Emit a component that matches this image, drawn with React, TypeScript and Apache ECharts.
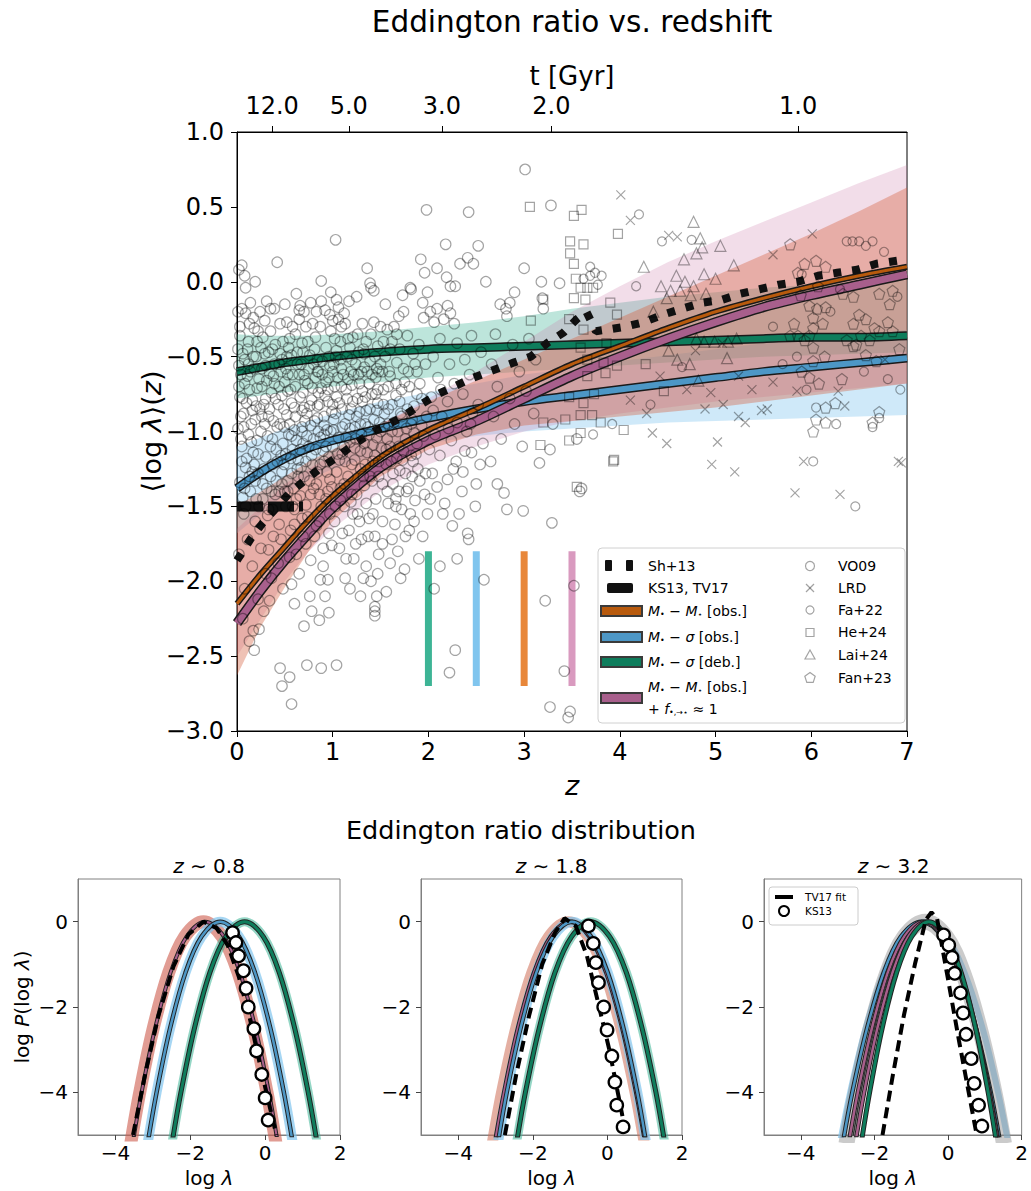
import React, { useEffect, useRef } from "react";
import * as echarts from "echarts";

// ---------------- main panel data ----------------
const Z_LINE = [0, 0.25, 0.5, 0.75, 1, 1.5, 2, 2.5, 3, 3.5, 4, 4.5, 5, 5.5, 6, 6.5, 7];
const ORANGE_LINE = [-2.15, -1.95, -1.77, -1.59, -1.43, -1.17, -0.99, -0.85, -0.7, -0.55, -0.43, -0.31, -0.2, -0.11, -0.03, 0.04, 0.1];
const PURPLE_LINE = [-2.28, -2.06, -1.86, -1.68, -1.51, -1.24, -1.06, -0.93, -0.78, -0.63, -0.5, -0.38, -0.27, -0.17, -0.09, -0.02, 0.05];
const BLUE_LINE = [-1.38, -1.27, -1.18, -1.11, -1.06, -0.98, -0.91, -0.85, -0.8, -0.76, -0.72, -0.68, -0.64, -0.6, -0.57, -0.54, -0.51];
const GREEN_LINE = [-0.6, -0.57, -0.54, -0.52, -0.5, -0.47, -0.45, -0.44, -0.43, -0.42, -0.41, -0.4, -0.39, -0.38, -0.37, -0.37, -0.36];

const RED_LO = [-2.63, -2.3, -2.04, -1.8, -1.6, -1.3, -1.12, -1.02, -0.96, -0.93, -0.9, -0.87, -0.84, -0.8, -0.76, -0.72, -0.68];
const RED_HI = [-1.5, -1.4, -1.3, -1.2, -1.12, -0.95, -0.8, -0.66, -0.52, -0.38, -0.24, -0.1, 0.04, 0.18, 0.32, 0.47, 0.63];
const PINK_LO = [-2.5, -2.25, -2.0, -1.8, -1.65, -1.4, -1.22, -1.1, -1.0, -0.93, -0.88, -0.84, -0.8, -0.77, -0.74, -0.71, -0.68];
const PINK_HI = [-1.65, -1.5, -1.35, -1.25, -1.15, -0.95, -0.78, -0.6, -0.4, -0.2, -0.03, 0.13, 0.27, 0.4, 0.53, 0.66, 0.78];
const GREEN_LO = [-0.78, -0.76, -0.74, -0.72, -0.7, -0.67, -0.64, -0.62, -0.6, -0.58, -0.56, -0.54, -0.52, -0.5, -0.49, -0.48, -0.47];
const GREEN_HI = [-0.35, -0.36, -0.36, -0.36, -0.35, -0.33, -0.3, -0.27, -0.23, -0.18, -0.14, -0.1, -0.07, -0.04, -0.02, 0.0, 0.01];
const BLUE_LO = [-1.68, -1.55, -1.42, -1.32, -1.25, -1.15, -1.08, -1.03, -1.0, -0.98, -0.96, -0.94, -0.93, -0.92, -0.91, -0.9, -0.89];
const BLUE_HI = [-1.1, -1.04, -0.98, -0.93, -0.88, -0.8, -0.74, -0.68, -0.62, -0.58, -0.53, -0.49, -0.45, -0.41, -0.38, -0.35, -0.32];

const SH13 = [[0, -1.86], [0.15, -1.71], [0.27, -1.61], [0.55, -1.41], [0.72, -1.32], [0.88, -1.24], [1.05, -1.17], [1.21, -1.09], [1.43, -1.0], [1.71, -0.91], [1.92, -0.82], [2.1, -0.75], [2.3, -0.69], [2.47, -0.64], [2.68, -0.59], [2.89, -0.54], [3.07, -0.5], [3.24, -0.41], [3.41, -0.34], [3.55, -0.25], [3.65, -0.2], [3.75, -0.33], [3.86, -0.32], [4.06, -0.3], [4.25, -0.27], [4.45, -0.22], [4.65, -0.18], [4.86, -0.14], [5.07, -0.12], [5.26, -0.08], [5.46, -0.05], [5.66, -0.02], [5.86, 0.0], [6.07, 0.04], [6.27, 0.06], [6.48, 0.08], [6.68, 0.12], [7.0, 0.15]];
const KS13_TV17 = [[0, -1.5], [0.69, -1.5]];

const VLINE_Z = [2, 2.5, 3, 3.5];
const VLINE_COLORS = ["#3db495", "#80c5ee", "#e8873a", "#d99abf"];
const VLINE_RANGE = [-1.8, -2.7];

const TOP_TICK_Z = [0.367, 1.168, 2.14, 3.285, 5.863];
const TOP_TICK_LABELS = ["12.0", "5.0", "3.0", "2.0", "1.0"];

const VO09 = [
  [0.02, 0.08], [0.05, 0.11], [0.08, 0.04], [0.09, -0.04], [0.19, 0.0], [0.31, -0.13], [0.35, -0.18], [0.01, -0.2], [0.09, -0.21], [0.17, -0.24], [0.18, -0.31], [0.22, -0.33], [0.42, 0.13], [0.45, -0.28],
  [0.03, -0.36], [0.12, -0.4], [0.27, -0.37], [0.4, -0.42], [0.06, -0.48], [0.2, -0.5], [0.33, -0.47], [0.47, -0.52], [0.02, -0.56], [0.14, -0.6], [0.26, -0.58], [0.38, -0.63], [0.08, -0.68], [0.21, -0.71], [0.31, -0.66], [0.44, -0.7], [0.03, -0.77], [0.16, -0.79], [0.28, -0.82], [0.4, -0.78], [0.49, -0.85], [0.07, -0.88], [0.19, -0.92], [0.33, -0.9], [0.45, -0.95], [0.01, -0.98], [0.12, -1.02], [0.25, -1.0], [0.37, -1.05], [0.48, -1.08], [0.05, -1.1], [0.17, -1.14], [0.3, -1.17], [0.42, -1.2], [0.09, -1.24], [0.22, -1.28], [0.35, -1.3], [0.47, -1.35], [0.03, -1.34], [0.14, -1.4], [0.27, -1.45], [0.4, -1.42], [0.07, -1.55], [0.19, -1.6], [0.32, -1.56], [0.44, -1.62], [0.11, -1.72], [0.25, -1.78], [0.38, -1.7], [0.02, -1.82], [0.16, -1.9], [0.3, -1.95], [0.43, -1.88], [0.08, -2.05], [0.22, -2.12], [0.34, -2.13], [0.18, -2.46], [0.23, -2.32], [0.17, -2.33], [0.45, -2.58], [0.47, -2.7], [0.06, -2.25], [0.13, -2.4], [0.28, -2.2], [0.48, -2.05], [0.36, -1.98],
  [0.5, -0.15], [0.58, -0.3], [0.65, -0.25], [0.66, -0.16], [0.65, -0.19], [0.72, -0.3], [0.77, -0.14], [0.88, -0.13], [0.88, 0.005], [0.98, -0.07], [0.98, -0.33], [0.97, -0.22], [0.55, -0.38], [0.68, -0.41], [0.82, -0.37], [0.93, -0.44], [0.52, -0.5], [0.63, -0.55], [0.76, -0.49], [0.89, -0.53], [0.58, -0.62], [0.71, -0.66], [0.84, -0.6], [0.96, -0.64], [0.53, -0.73], [0.66, -0.77], [0.79, -0.71], [0.92, -0.76], [0.6, -0.84], [0.73, -0.88], [0.86, -0.82], [0.99, -0.87], [0.55, -0.95], [0.68, -0.97], [0.81, -0.93], [0.94, -0.99], [0.62, -1.06], [0.75, -1.1], [0.87, -1.04], [0.51, -1.15], [0.64, -1.19], [0.78, -1.16], [0.91, -1.2], [0.57, -1.28], [0.7, -1.3], [0.84, -1.27], [0.97, -1.32], [0.53, -1.4], [0.66, -1.43], [0.8, -1.38], [0.93, -1.45], [0.6, -1.52], [0.74, -1.57], [0.88, -1.5], [0.56, -1.66], [0.69, -1.7], [0.83, -1.63], [0.96, -1.68], [0.62, -1.82], [0.77, -1.86], [0.9, -1.78], [0.57, -2.02], [0.65, -1.95], [0.76, -2.1], [0.78, -2.2], [0.86, -2.26], [0.87, -1.99], [0.95, -1.99], [0.96, -2.21], [0.55, -2.64], [0.57, -2.82], [0.73, -2.56], [0.88, -2.58], [0.7, -2.3], [0.6, -2.15], [0.92, -2.1],
  [1.03, 0.28], [1.36, 0.09], [1.39, -0.01], [1.4, -0.04], [1.43, -0.06], [1.04, -0.12], [1.06, -0.17], [1.17, -0.13], [1.0, -0.26], [1.06, -0.25], [1.12, -0.21], [1.09, -0.3], [1.31, -0.28], [1.43, -0.27], [1.5, -0.3], [1.21, -0.37], [1.35, -0.4], [1.47, -0.43], [1.04, -0.46], [1.15, -0.5], [1.27, -0.47], [1.39, -0.53], [1.09, -0.58], [1.22, -0.62], [1.33, -0.57], [1.45, -0.64], [1.02, -0.7], [1.14, -0.72], [1.28, -0.68], [1.41, -0.75], [1.07, -0.81], [1.19, -0.85], [1.31, -0.8], [1.46, -0.86], [1.01, -0.92], [1.13, -0.95], [1.25, -0.9], [1.37, -0.97], [1.49, -0.94], [1.06, -1.04], [1.18, -1.07], [1.3, -1.02], [1.42, -1.09], [1.1, -1.15], [1.23, -1.19], [1.36, -1.14], [1.48, -1.2], [1.04, -1.27], [1.16, -1.3], [1.29, -1.25], [1.41, -1.33], [1.08, -1.38], [1.2, -1.42], [1.33, -1.36], [1.45, -1.45], [1.12, -1.5], [1.26, -1.55], [1.38, -1.58], [1.02, -1.6], [1.17, -1.66], [1.3, -1.72], [1.44, -1.7], [1.07, -1.78], [1.22, -1.85], [1.35, -1.9], [1.48, -1.82], [1.29, -2.1], [1.44, -2.17], [1.44, -2.2], [1.44, -2.23], [1.46, -2.1], [1.04, -2.56], [1.13, -1.98], [1.18, -2.05], [1.4, -2.0],
  [1.92, 0.15], [1.96, 0.06], [1.98, 0.48], [1.81, -0.04], [1.73, -0.09], [1.82, -0.05], [1.94, -0.14], [1.99, -0.07], [1.69, -0.23], [1.74, -0.2], [1.95, -0.24], [1.57, -0.32], [1.62, -0.4], [1.78, -0.36], [1.9, -0.42], [1.55, -0.5], [1.67, -0.54], [1.84, -0.48], [1.97, -0.55], [1.6, -0.63], [1.75, -0.67], [1.88, -0.6], [1.53, -0.72], [1.66, -0.76], [1.8, -0.7], [1.93, -0.78], [1.58, -0.85], [1.71, -0.88], [1.85, -0.83], [1.98, -0.9], [1.54, -0.97], [1.68, -1.0], [1.82, -0.95], [1.95, -1.03], [1.6, -1.1], [1.74, -1.13], [1.88, -1.08], [1.56, -1.22], [1.7, -1.26], [1.84, -1.2], [1.97, -1.28], [1.63, -1.35], [1.77, -1.4], [1.91, -1.33], [1.58, -1.48], [1.72, -1.52], [1.86, -1.46], [1.99, -1.55], [1.65, -1.62], [1.8, -1.66], [1.56, -2.07], [1.52, -1.75], [1.68, -1.8], [1.94, -1.7], [1.75, -1.92], [1.6, -1.88],
  [2.18, 0.25], [2.42, 0.465], [2.52, 0.24], [2.41, 0.16], [2.47, 0.12], [2.33, 0.12], [2.09, 0.09], [2.19, 0.03], [2.23, -0.03], [2.28, -0.03], [2.02, -0.2], [2.09, -0.18], [2.06, -0.27], [2.2, -0.16], [2.23, -0.21], [2.16, -0.25], [2.27, -0.28], [2.6, 0.0], [2.12, -0.38], [2.3, -0.41], [2.45, -0.36], [2.05, -0.5], [2.22, -0.55], [2.38, -0.52], [2.55, -0.47], [2.1, -0.64], [2.27, -0.68], [2.43, -0.62], [2.03, -0.77], [2.2, -0.8], [2.36, -0.75], [2.52, -0.82], [2.14, -0.9], [2.3, -0.94], [2.46, -0.88], [2.07, -1.02], [2.24, -1.06], [2.4, -1.0], [2.57, -1.08], [2.12, -1.16], [2.29, -1.2], [2.45, -1.14], [2.04, -1.28], [2.2, -1.32], [2.36, -1.27], [2.02, -1.45], [2.25, -1.63], [2.41, -1.68], [2.42, -1.72], [2.12, -1.9], [2.3, -1.85], [2.06, -2.05], [2.58, -1.99], [2.28, -2.46], [2.22, -2.61], [2.15, -1.55], [2.35, -1.4], [2.5, -1.35],
  [3.01, 0.75], [3.28, 0.51], [3.0, 0.09], [3.18, 0.0], [3.37, -0.01], [2.75, -0.15], [2.81, -0.18], [2.82, -0.23], [2.9, -0.07], [2.85, -0.14], [3.19, -0.11], [3.2, -0.18], [2.7, -0.35], [2.88, -0.42], [3.05, -0.38], [2.66, -0.55], [2.95, -0.6], [3.12, -0.52], [2.72, -0.7], [2.85, -0.78], [3.02, -0.73], [2.68, -0.9], [2.9, -0.95], [3.1, -0.88], [2.76, -1.05], [2.98, -1.1], [3.3, -0.95], [2.72, -1.35], [2.79, -1.41], [2.82, -1.52], [2.99, -1.53], [3.29, -1.61], [3.16, -1.21], [3.27, -1.12], [3.22, -2.13], [3.52, -2.03], [3.42, -2.6], [3.27, -2.84], [3.48, -2.87], [3.46, -2.91], [2.65, -1.2], [3.55, -1.05], [3.58, -1.4], [3.6, -1.38],
  [0.04, -0.62], [0.1, -0.81], [0.15, -1.07], [0.23, -0.65], [0.29, -0.95], [0.36, -0.74], [0.41, -1.12], [0.46, -0.6], [0.52, -0.89], [0.57, -1.03], [0.61, -0.7], [0.67, -1.24], [0.71, -0.93], [0.75, -0.58], [0.8, -1.05], [0.85, -0.74], [0.9, -1.13], [0.95, -0.8], [1.0, -1.1], [1.05, -0.64], [1.1, -0.97], [1.15, -0.78], [1.2, -1.22], [1.24, -0.55], [1.28, -0.87], [1.33, -1.08], [1.38, -0.68], [1.43, -0.92], [1.48, -1.3], [1.52, -0.6], [1.57, -1.05], [1.62, -0.82], [1.67, -1.18], [1.72, -0.72], [1.77, -0.98], [1.83, -1.3], [1.88, -0.75], [0.06, -1.44], [0.19, -1.33], [0.33, -1.52], [0.47, -1.27], [0.59, -1.38], [0.72, -1.49], [0.83, -1.35], [0.97, -1.55], [1.08, -1.46], [1.21, -1.55], [1.35, -1.48], [0.11, -0.45], [0.24, -0.85], [0.39, -0.55], [0.54, -0.44], [0.68, -0.86], [0.81, -0.45], [0.93, -0.67], [1.02, -0.38], [1.18, -0.44], [1.3, -0.6], [1.44, -0.5], [1.6, -0.45], [1.74, -0.58], [0.14, -0.14], [0.29, -0.26], [0.62, -0.08], [0.83, -0.2], [1.25, -0.1], [1.55, -0.15],
  [0.13, -0.72], [0.26, -0.9], [0.35, -1.1], [0.49, -0.97], [0.56, -1.18], [0.69, -1.08], [0.78, -0.79], [0.91, -1.02], [1.0, -0.82], [1.12, -1.1], [1.23, -0.97], [1.34, -0.77], [1.46, -1.04], [1.58, -0.95], [1.7, -0.8], [1.82, -1.16], [0.04, -0.9], [0.18, -1.22], [0.31, -1.38], [0.44, -1.4], [0.58, -1.5], [0.7, -0.62], [0.84, -0.91], [0.96, -1.17], [1.09, -0.7], [1.2, -0.52], [1.34, -1.22], [1.47, -0.72], [1.63, -1.28], [1.76, -1.05],
  [0.02, -0.7], [0.07, -0.97], [0.12, -0.55], [0.16, -0.86], [0.21, -1.06], [0.25, -0.44], [0.3, -0.78], [0.34, -0.61], [0.38, -0.93], [0.43, -0.82], [0.46, -1.16], [0.5, -0.67], [0.53, -1.33], [0.57, -0.81], [0.6, -0.99], [0.63, -0.47], [0.66, -1.12], [0.69, -0.74], [0.73, -1.03], [0.76, -0.83], [0.79, -1.22], [0.82, -0.64], [0.85, -1.0], [0.88, -0.71], [0.91, -0.9], [0.94, -1.27], [0.97, -0.56], [1.01, -0.99], [1.04, -0.77], [1.07, -1.19], [1.11, -0.62], [1.14, -1.04], [1.17, -0.89], [1.2, -0.69], [1.23, -1.11], [1.26, -0.78], [1.29, -0.95], [1.32, -1.3], [1.35, -0.86], [1.38, -1.02], [1.41, -0.62], [1.44, -1.16], [1.47, -0.81], [1.51, -1.11], [1.54, -0.88], [1.58, -0.7], [1.61, -1.2], [1.64, -0.94], [1.69, -1.4], [1.73, -1.19], [1.78, -0.85], [1.81, -1.55], [1.85, -1.01], [1.89, -1.25], [1.93, -0.96], [1.96, -1.42], [2.01, -1.12], [2.05, -0.86], [2.09, -1.37], [2.13, -0.72], [2.17, -1.48], [2.21, -0.98], [2.26, -1.25], [2.32, -1.55], [2.38, -1.13], [2.44, -0.95], [2.49, -1.5], [2.54, -1.22],
  [0.05, -1.2], [0.09, -1.5], [0.13, -1.3], [0.2, -1.45], [0.24, -1.65], [0.28, -1.25], [0.33, -1.79], [0.37, -1.52], [0.41, -1.33], [0.46, -1.72], [0.51, -1.5], [0.55, -1.84], [0.6, -1.62], [0.64, -1.3], [0.68, -1.58], [0.72, -1.75], [0.77, -1.42], [0.81, -1.7], [0.86, -1.6], [0.9, -1.9], [0.95, -1.4], [0.99, -1.76], [1.03, -1.5], [1.1, -1.68], [1.14, -1.85], [1.19, -1.47], [1.24, -1.75], [1.28, -1.6], [1.32, -1.98], [1.37, -1.7], [1.42, -1.55], [1.47, -1.95], [1.52, -1.6], [1.57, -1.4], [1.62, -1.72], [1.66, -1.5], [1.71, -1.98], [1.76, -1.7], [1.85, -1.6], [1.9, -1.85],
  [0.03, -0.3], [0.08, -0.52], [0.13, -0.28], [0.18, -0.58], [0.24, -0.2], [0.29, -0.48], [0.35, -0.33], [0.39, -0.18], [0.44, -0.55], [0.48, -0.4], [0.52, -0.27], [0.57, -0.49], [0.61, -0.35], [0.67, -0.55], [0.7, -0.2], [0.74, -0.4], [0.79, -0.28], [0.84, -0.52], [0.87, -0.3], [0.92, -0.19], [0.96, -0.5], [1.01, -0.55], [1.08, -0.4], [1.13, -0.28], [1.19, -0.6], [1.26, -0.35], [1.32, -0.45], [1.4, -0.35], [1.46, -0.58], [1.53, -0.4], [1.64, -0.3], [1.7, -0.45],
  [0.01, -0.45], [0.04, -1.05], [0.06, -0.78], [0.1, -1.18], [0.11, -0.63], [0.15, -0.95], [0.17, -0.5], [0.2, -0.83], [0.22, -1.15], [0.26, -0.7], [0.27, -1.35], [0.3, -0.56], [0.32, -1.03], [0.34, -0.85], [0.37, -1.22], [0.39, -0.68], [0.42, -0.97], [0.45, -0.48], [0.47, -0.76], [0.49, -1.22], [0.51, -0.58], [0.54, -1.02], [0.56, -0.72], [0.58, -1.12], [0.61, -0.9], [0.63, -1.25], [0.65, -0.62], [0.68, -1.0], [0.7, -0.84], [0.72, -1.2], [0.74, -0.68], [0.77, -0.96], [0.8, -0.55], [0.82, -1.12], [0.84, -0.83], [0.87, -1.22], [0.89, -0.62], [0.91, -0.96], [0.93, -1.1], [0.95, -0.72], [0.98, -1.0], [1.0, -0.6], [1.03, -0.88], [1.05, -1.15], [1.08, -0.52], [1.1, -0.85], [1.13, -1.2], [1.16, -0.65], [1.18, -0.98], [1.21, -0.8], [1.24, -1.05], [1.27, -0.62], [1.29, -1.13], [1.31, -0.73], [1.34, -0.95], [1.36, -0.6], [1.39, -0.85], [1.42, -1.2], [1.45, -0.75], [1.48, -0.6], [1.5, -1.0], [1.53, -0.82], [1.56, -1.12], [1.59, -0.6], [1.62, -1.0], [1.66, -0.68], [1.69, -1.1], [1.72, -0.9], [1.76, -1.28], [1.79, -0.6], [1.83, -0.92], [1.87, -1.15], [1.91, -0.68], [0.08, -1.38], [0.16, -1.27], [0.23, -1.5], [0.36, -1.4], [0.5, -1.4], [0.62, -1.45], [0.76, -1.33], [0.86, -1.42], [0.99, -1.37], [1.12, -1.35], [1.25, -1.42], [1.39, -1.3], [1.52, -1.35], [1.66, -1.45], [1.79, -1.38], [0.05, -0.18], [0.21, -0.4], [0.37, -0.45], [0.53, -0.62], [0.69, -0.47], [0.85, -0.6], [1.03, -0.5], [1.16, -0.38], [1.33, -0.48], [1.5, -0.55], [1.67, -0.35], [1.86, -0.55]
];
const FA22 = [[6.37, 0.27], [6.43, 0.27], [6.5, 0.27], [6.57, 0.24], [6.64, 0.27], [6.76, 0.2], [5.95, -0.72], [6.05, -0.84], [6.26, -0.95], [6.64, -0.97], [6.71, -0.91], [6.93, -0.72], [6.02, -1.2], [6.46, -1.5], [5.7, -0.55], [5.85, -0.5], [6.2, -0.2], [6.3, -0.05], [6.9, -0.1], [5.6, -0.3], [6.55, -0.6], [6.8, -0.65], [5.9, 0.05], [3.69, 0.1], [3.74, 0.06], [3.81, 0.04], [3.69, 0.04], [4.2, 0.45], [4.44, 0.27], [4.75, 0.28], [4.65, -0.57], [4.32, -0.82], [3.92, -0.95], [3.72, -1.02], [4.17, -0.03], [3.62, 0.02], [3.77, -0.02]];
const HE24 = [[3.06, 0.5], [3.52, 0.44], [3.6, 0.48], [3.98, 0.32], [3.48, 0.27], [3.62, 0.25], [3.48, 0.19], [3.52, 0.12], [3.54, 0.02], [3.59, -0.04], [3.66, -0.04], [3.72, -0.04], [3.2, -0.12], [3.52, -0.11], [3.64, -0.12], [3.07, -0.26], [3.9, -0.14], [3.97, -0.22], [3.47, -0.25], [3.62, -0.32], [3.86, -0.41], [3.59, -0.44], [3.66, -0.52], [3.83, -0.54], [3.97, -0.56], [3.66, -0.63], [3.85, -0.61], [3.47, -0.77], [3.62, -0.81], [3.73, -0.75], [3.2, -0.94], [3.43, -0.92], [3.59, -0.89], [3.71, -0.89], [3.8, -0.94], [3.59, -1.01], [3.47, -1.06], [3.17, -1.09], [3.94, -1.19], [3.55, -1.37], [4.27, -0.55], [4.46, -0.73], [4.04, -0.99], [3.93, -1.2]];
const LAI24 = [[4.77, 0.4], [4.84, 0.29], [4.8, 0.19], [4.86, 0.23], [4.67, 0.15], [5.05, 0.24], [5.19, 0.11], [4.43, -0.03], [4.59, 0.04], [4.68, 0.0], [4.77, -0.03], [4.88, 0.05], [5.0, 0.02], [4.53, -0.06], [4.63, -0.06], [4.74, -0.09], [4.49, -0.11], [4.9, -0.08], [4.8, -0.38], [4.88, -0.4], [4.99, -0.4], [5.13, -0.4], [5.22, -0.38], [4.51, -0.46], [4.6, -0.52], [5.12, -0.51], [4.73, -0.55], [4.82, -0.66], [4.25, 0.1], [4.35, -0.2]];
const LRD = [[4.01, 0.58], [4.11, 0.41], [4.51, 0.31], [4.6, 0.3], [6.01, 0.32], [5.6, 0.18], [4.89, -0.85], [5.08, -0.82], [4.28, -0.88], [4.34, -1.01], [4.49, -1.08], [5.02, -1.07], [4.96, -1.22], [5.2, -1.27], [5.31, -0.94], [5.24, -0.9], [5.48, -0.86], [5.54, -0.85], [5.85, -0.73], [5.92, -1.2], [6.28, -0.73], [6.35, -0.83], [6.77, -0.52], [6.91, -1.2], [4.11, -0.79], [4.7, -0.72], [4.95, -0.74], [5.38, -0.72], [5.6, -0.67], [5.24, -0.63], [4.42, -0.63], [4.79, -0.46], [5.07, -0.41], [5.83, -1.41], [6.3, -1.42], [6.94, -1.21]];
const FAN23 = [[5.78, 0.25], [5.93, 0.12], [6.05, 0.14], [6.15, 0.1], [5.86, 0.06], [6.07, -0.03], [5.89, -0.09], [5.98, -0.16], [6.06, -0.18], [6.15, -0.17], [6.02, -0.24], [6.12, -0.28], [6.02, -0.31], [5.86, -0.36], [5.93, -0.39], [6.14, -0.5], [6.02, -0.53], [5.9, -0.6], [5.98, -0.64], [6.08, -0.68], [6.32, -0.65], [6.25, -0.81], [6.15, -0.84], [6.05, -0.92], [6.15, -0.94], [6.02, -1.0], [6.64, -0.94], [6.71, -0.87], [6.44, -0.28], [6.5, -0.22], [6.57, -0.25], [6.66, -0.31], [6.52, -0.36], [6.61, -0.39], [6.71, -0.33], [6.8, -0.27], [6.47, -0.42], [6.57, -0.49], [6.68, -0.53], [6.37, -0.39], [6.44, -0.43], [6.85, -0.33], [6.92, -0.45], [6.82, -0.15], [6.71, -0.08], [6.85, -0.06], [6.33, -0.08], [6.44, -0.1], [5.82, -0.28], [5.78, -0.36], [5.98, -0.36], [6.02, -0.44]];

// ---------------- distribution panels ----------------
const PAR_Y = [-5.2, -4, -2.5, -1.2, -0.35, 0, -0.35, -1.2, -2.5, -4, -5.2];
const P1_RED_X = [-3.59, -3.35, -2.99, -2.58, -2.15, -1.65, -1.15, -0.72, -0.31, 0.05, 0.29];
const P1_PURPLE_X = [-3.54, -3.3, -2.94, -2.53, -2.1, -1.6, -1.1, -0.67, -0.26, 0.1, 0.34];
const P1_BLUE_X = [-3.14, -2.9, -2.54, -2.13, -1.7, -1.2, -0.7, -0.27, 0.14, 0.5, 0.74];
const P1_GREEN_X = [-2.49, -2.25, -1.89, -1.48, -1.05, -0.55, -0.05, 0.38, 0.79, 1.15, 1.39];
const P2_RED_X = [-3.09, -2.84, -2.46, -2.03, -1.58, -1.05, -0.52, -0.07, 0.36, 0.74, 0.99];
const P2_PURPLE_X = [-3.02, -2.77, -2.4, -1.97, -1.52, -1.0, -0.48, -0.03, 0.4, 0.77, 1.02];
const P2_BLUE_X = [-2.94, -2.7, -2.33, -1.91, -1.46, -0.95, -0.44, 0.01, 0.43, 0.8, 1.04];
const P2_GREEN_X = [-2.44, -2.2, -1.83, -1.41, -0.96, -0.45, 0.06, 0.51, 0.93, 1.3, 1.54];
const P3_OUTER_X = [-2.94, -2.66, -2.24, -1.75, -1.25, -0.65, -0.05, 0.45, 0.94, 1.36, 1.64];
const P3_GREY_X = [-2.76, -2.5, -2.1, -1.65, -1.18, -0.62, -0.06, 0.41, 0.86, 1.26, 1.52];
const P3_BLUE_X = [-2.86, -2.6, -2.2, -1.75, -1.28, -0.72, -0.16, 0.31, 0.76, 1.16, 1.42];
const P3_PINK_X = [-2.7, -2.45, -2.07, -1.64, -1.19, -0.66, -0.13, 0.32, 0.75, 1.13, 1.38];
const P3_BLACK_X = [-2.61, -2.37, -2.0, -1.58, -1.13, -0.62, -0.11, 0.34, 0.76, 1.13, 1.37];
const P3_PINK2_X = [-2.52, -2.28, -1.92, -1.51, -1.08, -0.58, -0.08, 0.35, 0.76, 1.12, 1.36];
const P3_GREEN_X = [-2.36, -2.13, -1.79, -1.4, -0.99, -0.52, -0.05, 0.36, 0.75, 1.09, 1.32];

const P1_TV17 = [[-3.53, -5], [-3.2, -3.55], [-2.85, -2.2], [-2.45, -1.05], [-2.05, -0.3], [-1.65, 0.0], [-1.3, -0.15], [-1.0, -0.55], [-0.7, -1.3], [-0.4, -2.3], [-0.1, -3.5], [0.3, -5]];
const P2_TV17 = [[-2.75, -5], [-2.45, -3.6], [-2.1, -2.2], [-1.75, -1.0], [-1.4, -0.25], [-1.15, 0.08], [-0.85, -0.1], [-0.55, -0.8], [-0.25, -1.9], [0.05, -3.0], [0.3, -4.1], [0.5, -5]];
const P3_TV17 = [[-1.78, -5], [-1.5, -3.6], [-1.2, -2.2], [-0.9, -1.0], [-0.6, 0.05], [-0.45, 0.22], [-0.3, 0.08], [0.0, -1.35], [0.3, -2.8], [0.55, -3.95], [0.78, -5]];

const P1_KS_X = [-0.87, -0.78, -0.71, -0.58, -0.51, -0.45, -0.3, -0.23, -0.09, 0.0, 0.08];
const P1_KS_Y = [-0.26, -0.49, -0.8, -1.15, -1.56, -2.0, -2.51, -3.03, -3.58, -4.13, -4.65];
const P2_KS_X = [-0.51, -0.38, -0.31, -0.24, -0.1, -0.01, 0.12, 0.2, 0.25, 0.42];
const P2_KS_Y = [-0.1, -0.51, -0.96, -1.43, -2.0, -2.54, -3.15, -3.76, -4.3, -4.81];
const P3_KS_X = [-0.12, 0.02, 0.11, 0.18, 0.34, 0.41, 0.49, 0.63, 0.71, 0.83, 0.92];
const P3_KS_Y = [-0.31, -0.55, -0.84, -1.21, -1.67, -2.14, -2.64, -3.21, -3.79, -4.3, -4.79];

const PANEL_TITLES = ["0.8", "1.8", "3.2"];
const BOTTOM_X_TICKS = [-4, -2, 0, 2];
const BOTTOM_Y_TICKS = [-4, -2, 0];

// ---------------- colours ----------------
const C_ORANGE = "#b85a0d";
const C_BLUE = "#4d97c6";
const C_GREEN = "#0e7d5c";
const C_PURPLE = "#a85f8c";
const FONT = "DejaVu Sans";
const MARK_EDGE = "rgba(0,0,0,0.36)";

const zip = (xs: number[], ys: number[]) => xs.map((x, i) => [x, ys[i]]);
const minus = (v: number, d: number) => (v < 0 ? "\u2212" : "") + Math.abs(v).toFixed(d);

function band(xs: number[], lo: number[], hi: number[], fill: string, z: number) {
  return {
    type: "custom",
    coordinateSystem: "cartesian2d",
    xAxisIndex: 0,
    yAxisIndex: 0,
    z,
    silent: true,
    data: [[xs[0], lo[0]]],
    renderItem: (_p: any, api: any) => {
      const pts: number[][] = [];
      xs.forEach((x, i) => pts.push(api.coord([x, hi[i]])));
      for (let i = xs.length - 1; i >= 0; i--) pts.push(api.coord([xs[i], lo[i]]));
      return { type: "polygon", shape: { points: pts }, style: { fill, stroke: "none" } };
    },
  };
}

function line(data: any, color: string, width: number, idx: number, z: number, extra: any = {}) {
  return {
    type: "line",
    xAxisIndex: idx,
    yAxisIndex: idx,
    data,
    symbol: "none",
    silent: true,
    z,
    smooth: extra.smooth ?? false,
    lineStyle: { color, width, type: extra.type ?? "solid", cap: extra.cap ?? "butt" },
  };
}

function scatter(data: any, symbol: string, size: number, z: number) {
  return {
    type: "scatter",
    xAxisIndex: 0,
    yAxisIndex: 0,
    data,
    symbol,
    symbolSize: size,
    silent: true,
    z,
    itemStyle: { color: "rgba(0,0,0,0)", borderColor: MARK_EDGE, borderWidth: 1.2, opacity: 1 },
  };
}

const GRIDS = [
  { left: 237, top: 132, width: 670, height: 599 },
  { left: 78, top: 879, width: 262, height: 256 },
  { left: 421, top: 879, width: 261, height: 256 },
  { left: 764, top: 879, width: 259, height: 256 },
];

function buildOption() {
  const series: any[] = [];
  series.push(band(Z_LINE, BLUE_LO, BLUE_HI, "rgba(128,197,238,0.38)", 1));
  series.push(band(Z_LINE, GREEN_LO, GREEN_HI, "rgba(61,180,150,0.34)", 1));
  series.push(band(Z_LINE, PINK_LO, PINK_HI, "rgba(204,121,167,0.25)", 1));
  series.push(band(Z_LINE, RED_LO, RED_HI, "rgba(213,94,60,0.38)", 1));
  VLINE_Z.forEach((zv, i) => {
    series.push(line([[zv, VLINE_RANGE[0]], [zv, VLINE_RANGE[1]]], VLINE_COLORS[i], 7, 0, 2));
  });
  const models: [number[], string, number][] = [
    [GREEN_LINE, C_GREEN, 6],
    [BLUE_LINE, C_BLUE, 6],
    [PURPLE_LINE, C_PURPLE, 7],
    [ORANGE_LINE, C_ORANGE, 3],
  ];
  models.forEach(([ys, col, w]) => {
    series.push(line(zip(Z_LINE, ys), "#1a1a1a", w + 3, 0, 3, { smooth: 0.3 }));
    series.push(line(zip(Z_LINE, ys), col, w, 0, 3, { smooth: 0.3 }));
  });
  series.push(line(SH13, "#111", 8, 0, 4, { type: [8, 11] }));
  series.push(line(KS13_TV17, "#111", 10, 0, 4, { type: [26, 5] }));
  series.push(scatter(VO09, "circle", 10.5, 5));
  series.push(scatter(FA22, "circle", 9, 5));
  series.push(scatter(HE24, "rect", 9, 5));
  series.push(scatter(LAI24, "triangle", 11, 5));
  series.push(scatter(LRD, "path://M0,0L10,10M10,0L0,10", 9, 5));
  series.push(scatter(FAN23, "path://M5,0L9.76,3.45L7.94,9.05L2.06,9.05L0.24,3.45Z", 11, 5));

  const curve = (xs: number[], color: string, w: number, idx: number, z: number) =>
    line(zip(xs, PAR_Y), color, w, idx, z, { smooth: 0.35 });
  const edged = (xs: number[], color: string, w: number, idx: number, z: number) => {
    series.push(curve(xs, "#222", w + 2, idx, z));
    series.push(curve(xs, color, w, idx, z));
  };
  series.push(curve(P1_RED_X, "rgba(205,90,75,0.6)", 13, 1, 2));
  series.push(curve(P1_BLUE_X, "rgba(128,197,238,0.7)", 10, 1, 2));
  series.push(curve(P1_GREEN_X, "rgba(61,180,150,0.55)", 9, 1, 2));
  edged(P1_PURPLE_X, C_PURPLE, 2, 1, 3);
  edged(P1_BLUE_X, C_BLUE, 2.5, 1, 3);
  edged(P1_GREEN_X, C_GREEN, 3, 1, 3);
  series.push(curve(P2_RED_X, "rgba(205,110,85,0.55)", 11, 2, 2));
  series.push(curve(P2_BLUE_X, "rgba(128,197,238,0.7)", 10, 2, 2));
  series.push(curve(P2_GREEN_X, "rgba(61,180,150,0.55)", 9, 2, 2));
  edged(P2_PURPLE_X, C_PURPLE, 2.5, 2, 3);
  edged(P2_BLUE_X, C_BLUE, 2.5, 2, 3);
  edged(P2_GREEN_X, C_GREEN, 3, 2, 3);
  series.push(curve(P3_OUTER_X, "rgba(128,197,238,0.7)", 6, 3, 2));
  series.push(curve(P3_GREY_X, "rgba(140,140,140,0.45)", 16, 3, 2));
  edged(P3_BLUE_X, C_BLUE, 2.5, 3, 3);
  edged(P3_PINK_X, C_PURPLE, 2.5, 3, 3);
  series.push(curve(P3_BLACK_X, "#333", 1.5, 3, 3));
  edged(P3_PINK2_X, C_PURPLE, 2.5, 3, 3);
  edged(P3_GREEN_X, C_GREEN, 3, 3, 3);

  const tv = [P1_TV17, P2_TV17, P3_TV17];
  const ksx = [P1_KS_X, P2_KS_X, P3_KS_X];
  const ksy = [P1_KS_Y, P2_KS_Y, P3_KS_Y];
  for (let p = 0; p < 3; p++) {
    series.push(line(tv[p], "#000", 4, p + 1, 4, { type: [11, 6] }));
    series.push({
      type: "scatter", xAxisIndex: p + 1, yAxisIndex: p + 1, data: zip(ksx[p], ksy[p]),
      symbol: "circle", symbolSize: 12.5, silent: true, z: 5,
      itemStyle: { color: "#ffffff", borderColor: "#000", borderWidth: 2.3, opacity: 1 },
    });
  }

  const richAB = (fs: number) => ({
    a: { fontSize: fs, fontFamily: FONT, color: "#000" },
    b: { fontSize: fs, fontStyle: "italic", fontFamily: FONT, color: "#000" },
  });

  const xAxes: any[] = [
    {
      gridIndex: 0, type: "value", min: 0, max: 7, interval: 1,
      axisLine: { onZero: false, lineStyle: { color: "#000", width: 1 } },
      axisTick: { length: 6, lineStyle: { color: "#000" } },
      axisLabel: { fontSize: 24, color: "#000", margin: 9, fontFamily: FONT },
      splitLine: { show: false },
      name: "z", nameLocation: "middle", nameGap: 41,
      nameTextStyle: { fontSize: 27, fontStyle: "italic", color: "#000", fontFamily: FONT },
    },
  ];
  const yAxes: any[] = [
    {
      gridIndex: 0, type: "value", min: -3, max: 1, interval: 0.5,
      axisLine: { show: true, onZero: false, lineStyle: { color: "#000", width: 1 } },
      axisTick: { show: true, length: 6, lineStyle: { color: "#000" } },
      axisLabel: { fontSize: 24, color: "#000", margin: 13, fontFamily: FONT, formatter: (v: number) => minus(v, 1) },
      splitLine: { show: false },
      name: "{a|\u27e8log }{b|\u03bb}{a|\u27e9(}{b|z}{a|)}", nameLocation: "middle", nameGap: 72,
      nameMoveOverlap: false,
      nameTextStyle: { color: "#000", fontFamily: FONT, fontSize: 27, rich: richAB(27) },
    },
  ];
  for (let p = 0; p < 3; p++) {
    xAxes.push({
      gridIndex: p + 1, type: "value", min: -5, max: 2,
      axisLine: { onZero: false, lineStyle: { color: "#808080", width: 1 } },
      axisTick: { customValues: BOTTOM_X_TICKS, length: 5, lineStyle: { color: "#444" } },
      axisLabel: { customValues: BOTTOM_X_TICKS, fontSize: 20, color: "#000", margin: 8, fontFamily: FONT, formatter: (v: number) => minus(v, 0) },
      splitLine: { show: false },
      name: "{a|log }{b|\u03bb}", nameLocation: "middle", nameGap: 33,
      nameTextStyle: { fontSize: 20, color: "#000", rich: richAB(20) },
    });
    yAxes.push({
      gridIndex: p + 1, type: "value", min: -5, max: 1,
      axisLine: { show: true, onZero: false, lineStyle: { color: "#808080", width: 1 } },
      axisTick: { show: true, customValues: BOTTOM_Y_TICKS, length: 5, lineStyle: { color: "#444" } },
      axisLabel: { customValues: BOTTOM_Y_TICKS, fontSize: 20, color: "#000", margin: 10, fontFamily: FONT, formatter: (v: number) => minus(v, 0) },
      splitLine: { show: false },
      name: p === 0 ? "{a|log }{b|P}{a|(log }{b|\u03bb}{a|)}" : "",
      nameLocation: "middle", nameGap: 46,
      nameTextStyle: { fontSize: 20, color: "#000", rich: richAB(20) },
    });
  }
  xAxes.push({
    gridIndex: 0, type: "value", position: "top", min: 0, max: 7,
    axisLine: { show: true, onZero: false, lineStyle: { color: "#000", width: 1 } },
    axisTick: { show: true, customValues: TOP_TICK_Z, length: 6, lineStyle: { color: "#000" } },
    axisLabel: {
      customValues: TOP_TICK_Z, fontSize: 24, color: "#000", margin: 14, fontFamily: FONT,
      formatter: (v: number) => {
        const i = TOP_TICK_Z.findIndex((t) => Math.abs(t - v) < 1e-6);
        return i >= 0 ? TOP_TICK_LABELS[i] : "";
      },
    },
    splitLine: { show: false },
    name: "t [Gyr]", nameLocation: "middle", nameGap: 43, nameMoveOverlap: false,
    nameTextStyle: { fontSize: 26, color: "#000", fontFamily: FONT },
  });

  const txt = (x: number, y: number, text: string, size: number, extra: any = {}) => ({
    type: "text", x, y, z: 100,
    style: { text, fontSize: size, fontFamily: FONT, fill: "#000", textAlign: extra.align ?? "left", textVerticalAlign: "middle", rich: extra.rich },
  });
  const mrich = {
    i: { fontStyle: "italic", fontSize: 14, fontFamily: FONT, fill: "#000" },
    s: { fontSize: 8, fontFamily: FONT, fill: "#000", verticalAlign: "bottom", padding: [6, 0, 0, 0] },
    n: { fontSize: 14, fontFamily: FONT, fill: "#000" },
  };
  const legendRect = (y: number, fill: string) => ({
    type: "rect", z: 100, shape: { x: 601, y, width: 41, height: 10 }, style: { fill, stroke: "#3a3a3a", lineWidth: 2 },
  });
  const markStyle = { fill: "none", stroke: MARK_EDGE, lineWidth: 1.2 };
  const titleRich = {
    i: { fontStyle: "italic", fontSize: 20, fontFamily: FONT, fill: "#000" },
    n: { fontSize: 20, fontFamily: FONT, fill: "#000" },
  };
  const panelCenters = GRIDS.slice(1).map((g) => g.left + g.width / 2);

  const graphic: any[] = [
    txt(572, 22, "Eddington ratio vs. redshift", 29.5, { align: "center" }),
    txt(521, 830, "Eddington ratio distribution", 25.5, { align: "center" }),
    ...PANEL_TITLES.map((t, i) => txt(panelCenters[i], 866, `{i|z}{n| \u223c ${t}}`, 20, { align: "center", rich: titleRich })),
    { type: "rect", z: 99, shape: { x: 598, y: 548, width: 307, height: 175, r: 4 }, style: { fill: "rgba(255,255,255,0.8)", stroke: "#d0d0d0", lineWidth: 1 } },
    { type: "rect", z: 100, shape: { x: 605, y: 560, width: 7, height: 11, r: 1 }, style: { fill: "#111" } },
    { type: "rect", z: 100, shape: { x: 626, y: 560, width: 7, height: 11, r: 1 }, style: { fill: "#111" } },
    { type: "rect", z: 100, shape: { x: 607, y: 583, width: 26, height: 10, r: 2 }, style: { fill: "#111" } },
    legendRect(606, C_ORANGE),
    legendRect(632, C_BLUE),
    legendRect(657, C_GREEN),
    legendRect(693, C_PURPLE),
    txt(648, 566, "Sh+13", 14),
    txt(648, 588, "KS13, TV17", 14),
    txt(648, 611, "{i|M}{s|\u2022}{n| \u2212 }{i|M}{s|\u22c6}{n| [obs.]}", 14, { rich: mrich }),
    txt(648, 637, "{i|M}{s|\u2022}{n| \u2212 }{i|\u03c3}{n| [obs.]}", 14, { rich: mrich }),
    txt(648, 662, "{i|M}{s|\u2022}{n| \u2212 }{i|\u03c3}{n| [deb.]}", 14, { rich: mrich }),
    txt(648, 687, "{i|M}{s|\u2022}{n| \u2212 }{i|M}{s|\u22c6}{n| [obs.]}", 14, { rich: mrich }),
    txt(648, 709, "{n|+ }{i|f}{s|\u2022,\u2192\u22c6}{n| \u2248 1}", 14, { rich: mrich }),
    { type: "circle", z: 100, shape: { cx: 810, cy: 566, r: 4.5 }, style: markStyle },
    { type: "line", z: 100, shape: { x1: 806, y1: 584, x2: 814, y2: 592 }, style: markStyle },
    { type: "line", z: 100, shape: { x1: 814, y1: 584, x2: 806, y2: 592 }, style: markStyle },
    { type: "circle", z: 100, shape: { cx: 810, cy: 610, r: 4 }, style: markStyle },
    { type: "rect", z: 100, shape: { x: 806, y: 628.5, width: 8, height: 8 }, style: markStyle },
    { type: "polygon", z: 100, shape: { points: [[810, 650], [815, 659], [805, 659]] }, style: markStyle },
    { type: "polygon", z: 100, shape: { points: [[810, 672.5], [815.2, 676.3], [813.2, 682.4], [806.8, 682.4], [804.8, 676.3]] }, style: markStyle },
    txt(838, 566, "VO09", 14),
    txt(838, 588, "LRD", 14),
    txt(838, 610, "Fa+22", 14),
    txt(838, 632, "He+24", 14),
    txt(838, 655, "Lai+24", 14),
    txt(838, 678, "Fan+23", 14),
    { type: "rect", z: 99, shape: { x: 769, y: 887, width: 89, height: 38, r: 3 }, style: { fill: "rgba(255,255,255,0.85)", stroke: "#cccccc", lineWidth: 1 } },
    { type: "line", z: 100, shape: { x1: 775, y1: 897, x2: 793, y2: 897 }, style: { stroke: "#000", lineWidth: 4 } },
    { type: "circle", z: 100, shape: { cx: 784, cy: 911, r: 5 }, style: { fill: "#fff", stroke: "#000", lineWidth: 2 } },
    txt(805, 897, "TV17 fit", 10.5),
    txt(805, 911, "KS13", 10.5),
  ];

  return {
    animation: false,
    backgroundColor: "#fff",
    textStyle: { fontFamily: FONT },
    grid: GRIDS.map((g, i) => ({
      ...g, containLabel: false, show: true, backgroundColor: "transparent",
      borderColor: i === 0 ? "#000" : "#808080", borderWidth: 1,
    })),
    xAxis: xAxes,
    yAxis: yAxes,
    series,
    graphic: { elements: graphic },
  };
}

export default function App() {
  const ref = useRef<HTMLDivElement>(null);
  useEffect(() => {
    if (!ref.current) return;
    const chart = echarts.init(ref.current, undefined, { renderer: "svg" });
    chart.setOption(buildOption() as any);
    return () => chart.dispose();
  }, []);
  return <div ref={ref} style={{ position: "absolute", left: 0, top: 0, width: 1031, height: 1191, background: "#fff" }} />;
}
